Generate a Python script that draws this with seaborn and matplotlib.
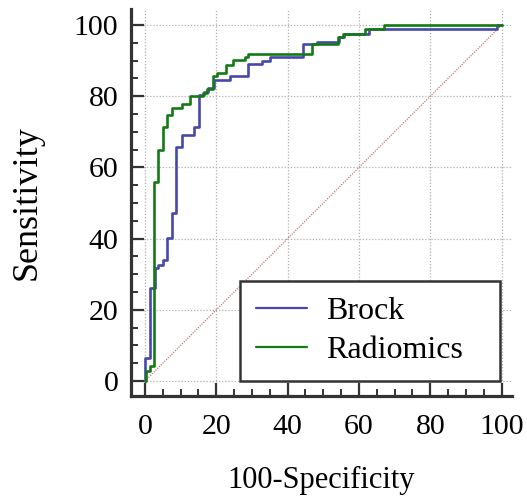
import pandas as pd
import seaborn as sns
import matplotlib.pyplot as plt
from matplotlib.ticker import MultipleLocator

sns.set_theme(style="white")
plt.rcParams["font.family"] = ["Liberation Serif", "DejaVu Serif"]
plt.rcParams["text.color"] = "black"
plt.rcParams["axes.labelcolor"] = "black"

# ROC steps: x = 100-specificity where the curve jumps, y = new sensitivity
brock_x = [0, 0, 1.4, 2.7, 3.6, 5.0, 6.3, 7.5, 8.7, 10.3, 13.7, 15.1, 16.5, 17.8,
           19.5, 23.8, 29.0, 32.7, 35.0, 44.2, 48.1, 54.5, 55.8, 62.9, 98.6, 100]
brock_y = [0, 6.4, 26.2, 31.7, 32.6, 34.0, 40.3, 47.2, 65.8, 69.0, 71.4, 80.3, 81.2, 82.3,
           84.6, 85.8, 89.0, 89.9, 91.1, 94.6, 95.3, 96.7, 97.6, 98.8, 100, 100]

radiomics_x = [0, 0.3, 1.4, 2.5, 3.7, 5.0, 6.3, 7.5, 10.3, 12.7, 16.4, 17.5, 19.0,
               20.1, 22.7, 24.6, 28.0, 29.0, 46.9, 54.2, 55.6, 61.7, 67.0, 100]
radiomics_y = [0, 2.9, 4.2, 56.0, 64.9, 71.3, 74.7, 76.6, 77.9, 80.1, 81.0, 81.9, 85.7,
               86.6, 88.8, 90.2, 91.1, 92.0, 94.6, 96.6, 97.6, 98.8, 100, 100]

diag_x = [0, 100]
diag_y = [0, 100]

df = pd.concat([
    pd.DataFrame({"fpr": brock_x, "tpr": brock_y, "model": "Brock"}),
    pd.DataFrame({"fpr": radiomics_x, "tpr": radiomics_y, "model": "Radiomics"}),
], ignore_index=True)

fig = plt.figure(figsize=(5.27, 4.99), dpi=100)
ax = fig.add_axes([131 / 527, 103 / 499, 381 / 527, 387 / 499])

ax.grid(True, which="major", color="#b0b0b0", linestyle=(0, (1, 1.5)), linewidth=0.9)
ax.set_axisbelow(True)

sns.lineplot(x=diag_x, y=diag_y, ax=ax, color="#c87474", linestyle=(0, (1, 1)),
             linewidth=0.9, legend=False)
sns.lineplot(data=df, x="fpr", y="tpr", hue="model", sort=False, estimator=None,
             palette={"Brock": "#4848aa", "Radiomics": "#157a15"},
             drawstyle="steps-post", linewidth=1.9, ax=ax)

ax.set_xlim(-3.9, 102.9)
ax.set_ylim(-4.2, 104.5)
ax.xaxis.set_major_locator(MultipleLocator(20))
ax.yaxis.set_major_locator(MultipleLocator(20))
ax.xaxis.set_minor_locator(MultipleLocator(5))
ax.yaxis.set_minor_locator(MultipleLocator(5))

for side in ["top", "right"]:
    ax.spines[side].set_visible(False)
for side in ["left", "bottom"]:
    ax.spines[side].set_linewidth(2.3)
    ax.spines[side].set_color("#333333")

ax.tick_params(which="both", bottom=True, left=True, top=False, right=False)
ax.tick_params(which="major", direction="in", length=9.5, width=1.6, color="#333333",
               labelsize=21.5, labelcolor="black")
ax.tick_params(which="minor", direction="in", length=5, width=1.4, color="#333333")
ax.tick_params(axis="x", which="major", pad=13)
ax.tick_params(axis="y", which="major", pad=9)

ax.set_xlabel("100-Specificity", fontsize=22, labelpad=19)
ax.set_ylabel("Sensitivity", fontsize=26, labelpad=22)

leg = ax.legend(loc="lower left", bbox_to_anchor=(0.286, 0.039, 0.682, 0.26),
                mode="expand", fontsize=23, frameon=True, fancybox=False,
                handlelength=1.6, handletextpad=0.6, borderpad=0.5,
                labelspacing=0.3, borderaxespad=0)
leg.get_frame().set_edgecolor("#333333")
leg.get_frame().set_linewidth(1.8)
leg.get_frame().set_alpha(1)
for text in leg.get_texts():
    text.set_color("black")
for line in leg.get_lines():
    line.set_linewidth(1.6)

plt.savefig("out.png", dpi=100)
plt.close()
